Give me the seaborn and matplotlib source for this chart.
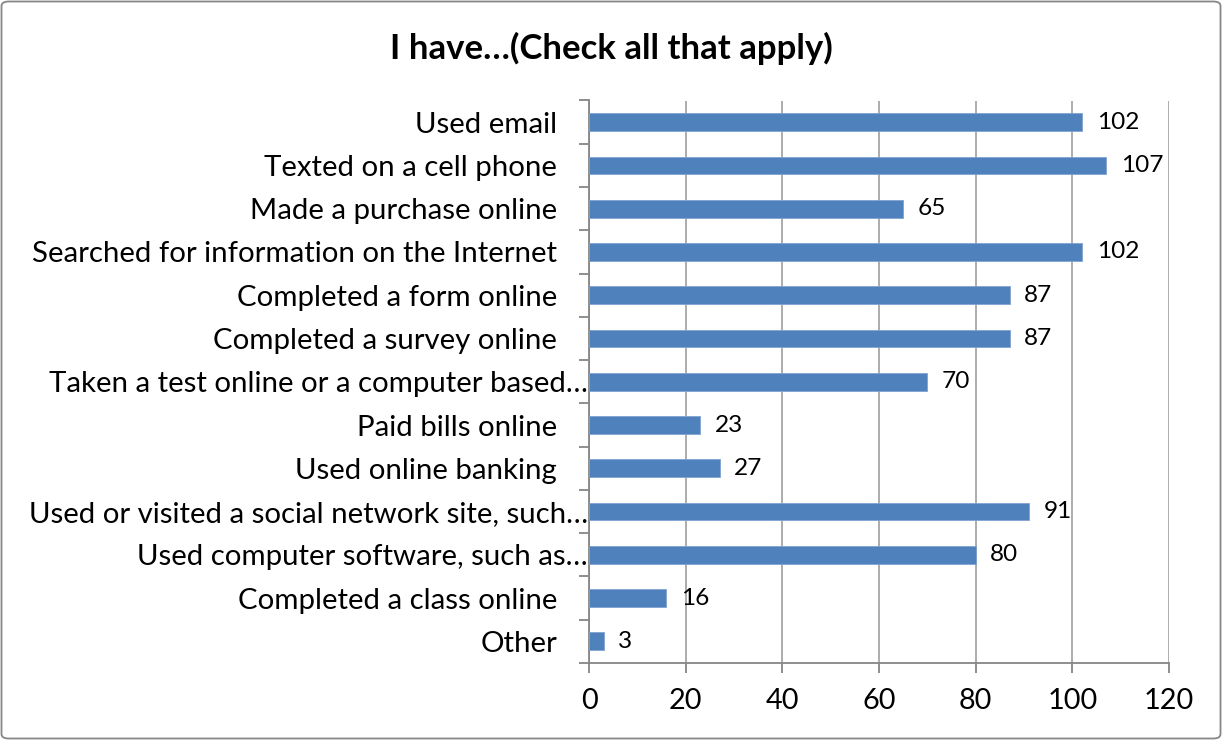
import matplotlib
matplotlib.use("Agg")
import matplotlib.pyplot as plt
import matplotlib.transforms as mtransforms
from matplotlib.patches import FancyBboxPatch
import seaborn as sns
import pandas as pd

# Survey responses: "I have... (Check all that apply)"
categories = [
    "Used email",
    "Texted on a cell phone",
    "Made a purchase online",
    "Searched for information on the Internet",
    "Completed a form online",
    "Completed a survey online",
    "Taken a test online or a computer based\u2026",
    "Paid bills online",
    "Used online banking",
    "Used or visited a social network site, such\u2026",
    "Used computer software, such as\u2026",
    "Completed a class online",
    "Other",
]
counts = [102, 107, 65, 102, 87, 87, 70, 23, 27, 91, 80, 16, 3]
x_ticks = [0, 20, 40, 60, 80, 100, 120]
title = "I have\u2026(Check all that apply)"

bar_color = "#4F81BD"
grid_color = "#A6A6A6"
axis_color = "#868686"
font = ["Lato", "DejaVu Sans"]

sns.set_theme(style="white")
plt.rcParams["font.family"] = font

df = pd.DataFrame({"category": categories, "count": counts})

fig = plt.figure(figsize=(12.22, 7.40), dpi=100)
ax = fig.add_axes([589 / 1222, 1 - 663 / 740, (1169 - 589) / 1222, (663 - 100.5) / 740])

sns.barplot(data=df, x="count", y="category", orient="h", color=bar_color,
            width=0.41, saturation=1, ax=ax, zorder=3)
for p in ax.patches:
    p.set_edgecolor("#7FA3D1")
    p.set_linewidth(0.6)

ax.set_xlim(0, 120)
ax.set_xticks(x_ticks)
ax.set_xticklabels([str(t) for t in x_ticks], fontsize=20.8, color="black")
ax.set_xlabel("")
ax.set_ylabel("")

# vertical gridlines
ax.grid(axis="x", color=grid_color, linewidth=1.3, zorder=0)
ax.grid(axis="y", visible=False)

for side in ("top", "right"):
    ax.spines[side].set_visible(False)
for side in ("left", "bottom"):
    ax.spines[side].set_color(axis_color)
    ax.spines[side].set_linewidth(1.3)

ax.tick_params(axis="x", which="major", direction="out", length=7.2, width=1.3,
               color=axis_color, pad=11, bottom=True)

# category tick marks sit between bars; labels at bar centers
n = len(categories)
ax.set_yticks([i - 0.5 for i in range(n + 1)], minor=True)
ax.tick_params(axis="y", which="minor", direction="out", length=7.2, width=1.3,
               color=axis_color, left=True)
ax.tick_params(axis="y", which="major", length=0, pad=23, labelsize=21.2,
               labelcolor="black")

# truncated labels run up to the axis
shift = mtransforms.ScaledTranslation(22.3 / 72, 0, fig.dpi_scale_trans)
for lab in ax.get_yticklabels():
    if lab.get_text().endswith("\u2026"):
        lab.set_transform(lab.get_transform() + shift)

ax.bar_label(ax.containers[0], labels=[str(v) for v in counts], padding=10.5,
             fontsize=17.6, color="black")

fig.text(0.5, 1 - 48 / 740, title, ha="center", va="center", fontsize=25,
         fontweight="bold", color="black")

# chart area border
border = FancyBboxPatch((1.5 / 1222, 1.5 / 740), 1 - 3 / 1222, 1 - 3 / 740,
                        boxstyle="round,pad=0,rounding_size=0.006",
                        transform=fig.transFigure, facecolor="none",
                        edgecolor=axis_color, linewidth=1.3)
fig.patches.append(border)

fig.savefig("out.png", dpi=100, facecolor="white")
